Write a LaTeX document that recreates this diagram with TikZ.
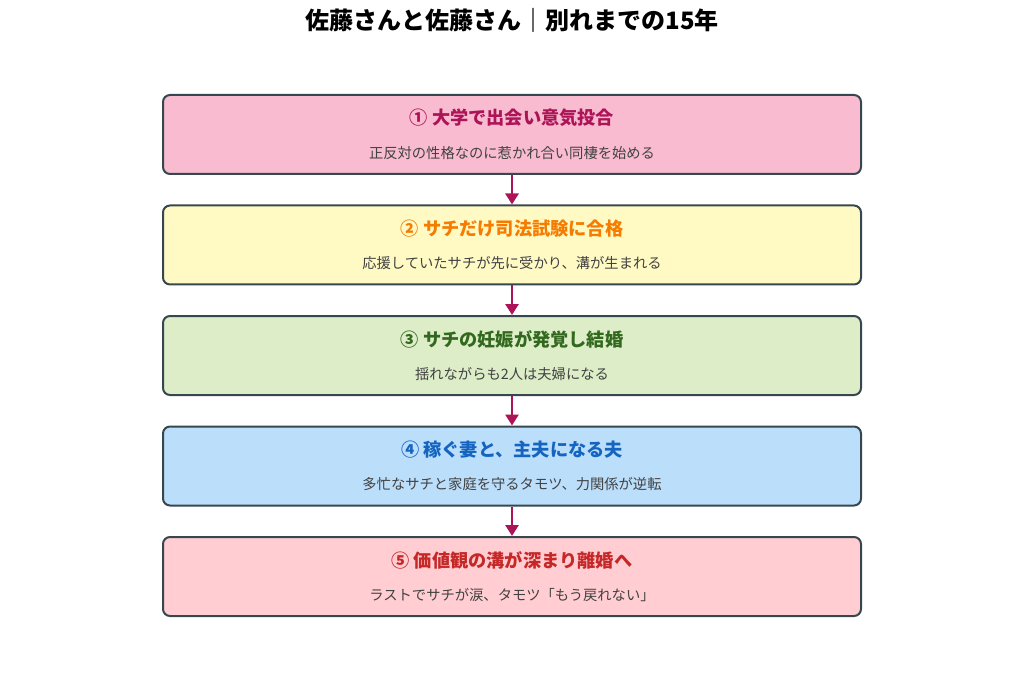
\documentclass[tikz,border=0pt]{standalone}
\usepackage{fontspec}
\setmainfont{Noto Sans CJK JP}
\usetikzlibrary{arrows.meta}
\definecolor{bordc}{HTML}{37474F}
\definecolor{arrc}{HTML}{AD1457}
\definecolor{subc}{HTML}{424242}
\definecolor{fA}{HTML}{F8BBD0}\definecolor{tA}{HTML}{AD1457}
\definecolor{fB}{HTML}{FFF9C4}\definecolor{tB}{HTML}{F57C00}
\definecolor{fC}{HTML}{DCEDC8}\definecolor{tC}{HTML}{33691E}
\definecolor{fD}{HTML}{BBDEFB}\definecolor{tD}{HTML}{1565C0}
\definecolor{fE}{HTML}{FFCDD2}\definecolor{tE}{HTML}{C62828}
\begin{document}
\begin{tikzpicture}[x=1pt,y=1pt,
  stagebox/.style={draw=bordc,line width=2pt,rounded corners=7pt,minimum width=698pt,minimum height=79pt,inner sep=0pt},
  headtxt/.style={font=\fontsize{18.2}{21}\selectfont\bfseries,inner sep=0pt},
  subtxt/.style={font=\fontsize{14.3}{17}\selectfont,text=subc,inner sep=0pt},
  flowarrow/.style={draw=arrc,line width=2.8pt,-{Triangle[length=11pt,width=13pt]}}]
\useasboundingbox (0,0) rectangle (1024,-700);
\node[font=\fontsize{24}{28}\selectfont\bfseries] (title) at (512,-20) {佐藤さんと佐藤さん｜別れまでの15年};
\foreach \i/\top/\f/\t/\h/\s in {
  1/94/fA/tA/{① 大学で出会い意気投合}/{正反対の性格なのに惹かれ合い同棲を始める},
  2/204.5/fB/tB/{② サチだけ司法試験に合格}/{応援していたサチが先に受かり、溝が生まれる},
  3/315/fC/tC/{③ サチの妊娠が発覚し結婚}/{揺れながらも2人は夫婦になる},
  4/425.5/fD/tD/{④ 稼ぐ妻と、主夫になる夫}/{多忙なサチと家庭を守るタモツ、力関係が逆転},
  5/536/fE/tE/{⑤ 価値観の溝が深まり離婚へ}/{ラストでサチが涙、タモツ「もう戻れない」}}{
  \node[stagebox,fill=\f,anchor=north] (box\i) at (512,-\top) {};
  \node[headtxt,text=\t] (head\i) at (512,-\top-24) {\h};
  \node[subtxt] (sub\i) at (512,-\top-59) {\s};
}
\foreach \a/\b in {1/2,2/3,3/4,4/5}{
  \draw[flowarrow] (box\a.south) -- (box\b.north);
}
\end{tikzpicture}
\end{document}
